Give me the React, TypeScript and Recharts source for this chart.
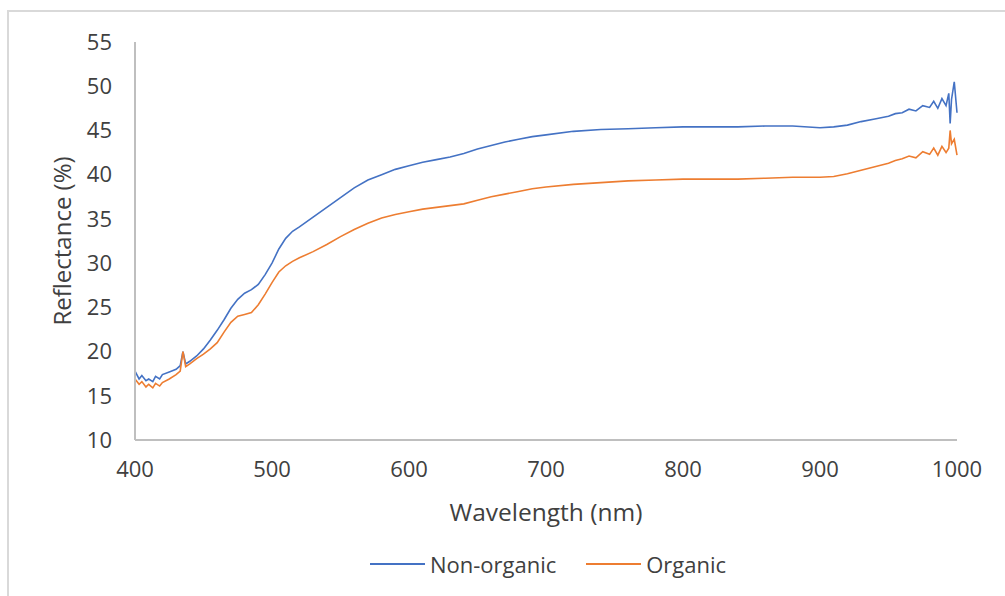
import { LineChart, Line, XAxis, YAxis, Legend } from 'recharts';

const wavelengths = [
  400, 403, 405, 408, 410, 413, 415, 418, 420, 425, 430, 433, 435, 437, 440, 445, 450, 455, 460, 465,
  470, 475, 480, 485, 490, 495, 500, 505, 510, 515, 520, 530, 540, 550, 560, 570, 580, 590, 600, 610,
  620, 630, 640, 650, 660, 670, 680, 690, 700, 720, 740, 760, 780, 800, 820, 840, 860, 880, 900, 910,
  920, 930, 940, 950, 955, 960, 965, 970, 975, 980, 983, 986, 989, 992, 994, 995, 996, 998, 1000,
];

const nonOrganic = [
  17.8, 16.9, 17.3, 16.7, 16.9, 16.6, 17.2, 16.9, 17.4, 17.7, 18.0, 18.4, 20.0, 18.6, 18.9, 19.5, 20.3, 21.3, 22.4, 23.6,
  24.9, 25.9, 26.6, 27.0, 27.6, 28.7, 30.0, 31.6, 32.8, 33.6, 34.1, 35.2, 36.3, 37.4, 38.5, 39.4, 40.0, 40.6, 41.0, 41.4,
  41.7, 42.0, 42.4, 42.9, 43.3, 43.7, 44.0, 44.3, 44.5, 44.9, 45.1, 45.2, 45.3, 45.4, 45.4, 45.4, 45.5, 45.5, 45.3, 45.4,
  45.6, 46.0, 46.3, 46.6, 46.9, 47.0, 47.4, 47.2, 47.8, 47.6, 48.3, 47.5, 48.6, 47.8, 49.2, 45.8, 48.5, 50.5, 47.0,
];

const organic = [
  16.9, 16.3, 16.6, 16.0, 16.3, 15.9, 16.4, 16.1, 16.5, 16.9, 17.4, 17.8, 20.0, 18.3, 18.6, 19.2, 19.7, 20.3, 21.0, 22.2,
  23.3, 24.0, 24.2, 24.4, 25.3, 26.5, 27.8, 29.0, 29.7, 30.2, 30.6, 31.3, 32.1, 33.0, 33.8, 34.5, 35.1, 35.5, 35.8, 36.1,
  36.3, 36.5, 36.7, 37.1, 37.5, 37.8, 38.1, 38.4, 38.6, 38.9, 39.1, 39.3, 39.4, 39.5, 39.5, 39.5, 39.6, 39.7, 39.7, 39.8,
  40.1, 40.5, 40.9, 41.3, 41.6, 41.8, 42.1, 41.9, 42.6, 42.3, 43.0, 42.2, 43.2, 42.5, 43.0, 45.0, 43.5, 44.0, 42.2,
];

const xTicks = [400, 500, 600, 700, 800, 900, 1000];
const yTicks = [10, 15, 20, 25, 30, 35, 40, 45, 50, 55];

const seriesInfo = [
  { key: 'nonOrganic', name: 'Non-organic', color: '#4472C4' },
  { key: 'organic', name: 'Organic', color: '#ED7D31' },
];

const data = wavelengths.map((w, i) => ({ w, nonOrganic: nonOrganic[i], organic: organic[i] }));

const FONT = '"Open Sans", "Liberation Sans", sans-serif';
const TEXT = '#404040';

function LegendContent() {
  return (
    <div style={{ display: 'flex', justifyContent: 'center', alignItems: 'center', fontFamily: FONT, fontSize: 22, color: TEXT }}>
      {seriesInfo.map((s, i) => (
        <div key={s.key} style={{ display: 'flex', alignItems: 'center', marginLeft: i ? 30 : 0 }}>
          <svg width={55} height={4} style={{ marginRight: 5 }}>
            <line x1={0} y1={2} x2={55} y2={2} stroke={s.color} strokeWidth={2} />
          </svg>
          <span>{s.name}</span>
        </div>
      ))}
    </div>
  );
}

export default function App() {
  return (
    <div style={{ position: 'fixed', left: 0, top: 0, width: 1005, height: 596, background: '#fff', overflow: 'hidden' }}>
      <div style={{ position: 'absolute', left: 7, top: 10, width: 1100, height: 700, border: '2px solid #d9d9d9', boxSizing: 'border-box' }} />
      <LineChart
        width={1005}
        height={596}
        data={data}
        margin={{ top: 42, right: 48, bottom: 0, left: 75 }}
        style={{ position: 'absolute', left: 0, top: 0 }}
      >
        <XAxis
          dataKey="w"
          type="number"
          domain={[400, 1000]}
          ticks={xTicks}
          interval={0}
          height={126}
          axisLine={{ stroke: '#bfbfbf', strokeWidth: 2 }}
          tickLine={false}
          tickMargin={15}
          tick={{ fill: TEXT, fontSize: 22, fontFamily: FONT }}
          label={{ value: 'Wavelength (nm)', position: 'insideTop', offset: 64, fill: TEXT, fontSize: 24.5, fontFamily: FONT }}
        />
        <YAxis
          type="number"
          domain={[10, 55]}
          ticks={yTicks}
          interval={0}
          width={60}
          axisLine={{ stroke: '#bfbfbf', strokeWidth: 2 }}
          tickLine={false}
          tickMargin={17}
          tick={{ fill: TEXT, fontSize: 22, fontFamily: FONT }}
          label={{ value: 'Reflectance (%)', angle: -90, position: 'insideLeft', dx: -18, fill: TEXT, fontSize: 24, fontFamily: FONT, style: { textAnchor: 'middle' } }}
        />
        <Legend verticalAlign="bottom" content={<LegendContent />} wrapperStyle={{ bottom: 17, left: 137, width: 822 }} />
        {seriesInfo.map((s) => (
          <Line
            key={s.key}
            type="linear"
            dataKey={s.key}
            name={s.name}
            stroke={s.color}
            strokeWidth={1.6}
            dot={false}
            isAnimationActive={false}
          />
        ))}
      </LineChart>
    </div>
  );
}
